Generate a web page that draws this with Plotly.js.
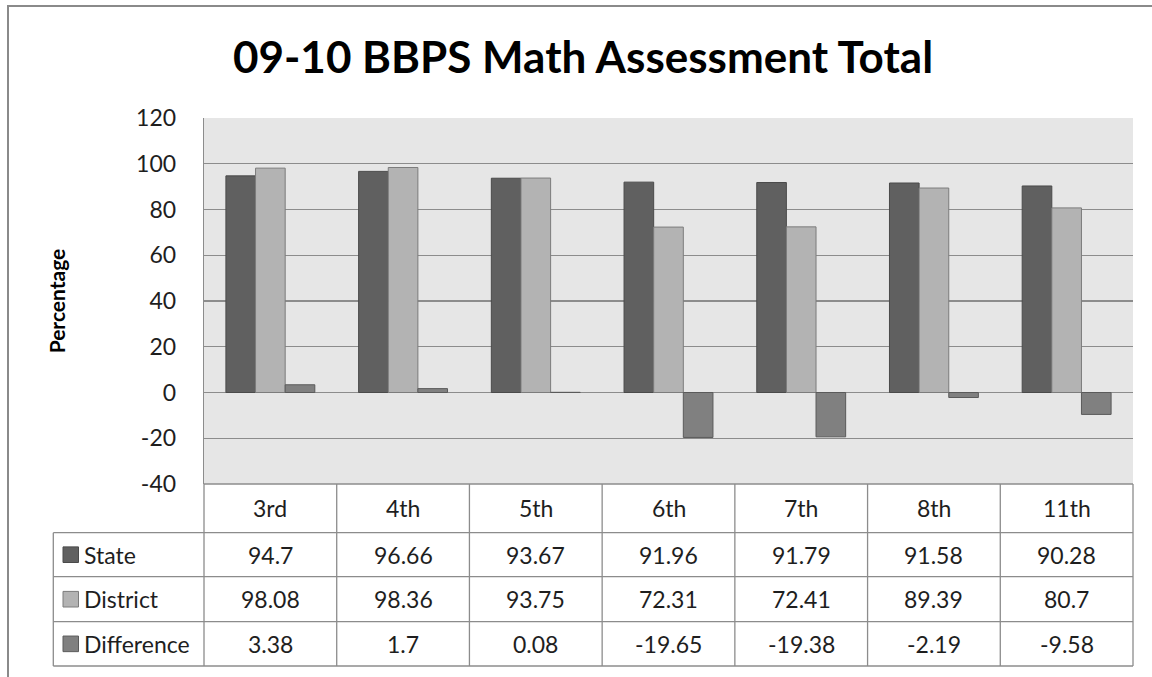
<!DOCTYPE html>
<html>
<head>
<meta charset="utf-8">
<script src="https://cdn.plot.ly/plotly-3.0.1.min.js"></script>
<style>
  html, body { margin: 0; padding: 0; background: #fff; }
  #chart { width: 1152px; height: 677px; }
</style>
</head>
<body>
<div id="chart"></div>
<script>
// grades on the x axis
var grades = ["3rd", "4th", "5th", "6th", "7th", "8th", "11th"];

// percentages
var stateScores = [94.7, 96.66, 93.67, 91.96, 91.79, 91.58, 90.28];
var districtScores = [98.08, 98.36, 93.75, 72.31, 72.41, 89.39, 80.7];
var differenceScores = [3.38, 1.7, 0.08, -19.65, -19.38, -2.19, -9.58];

var seriesNames = ["State", "District", "Difference"];
var seriesValues = [stateScores, districtScores, differenceScores];
var seriesColors = ["#606060", "#b3b3b3", "#808080"];
var seriesEdges = ["#4a4a4a", "#7c7c7c", "#5a5a5a"];

var yTicks = [-40, -20, 0, 20, 40, 60, 80, 100, 120];

var font = "Lato, 'Open Sans', sans-serif";
var lineGray = "#8c8c8c";
var textColor = "#1e1e1e";

//one bar trace per series
var data = seriesNames.map((name, i) => ({
  x: grades,
  y: seriesValues[i],
  name: name,
  type: "bar",
  marker: { color: seriesColors[i], line: { color: seriesEdges[i], width: 1 } },
  hoverinfo: "x+y+name"
}));

// pixel layout of the data table under the plot (plot area is 118..484 tall)
var plotTop = 118, plotBottom = 484, plotLeft = 204, plotWidth = 929;
var toY = py => (plotBottom - py) / (plotBottom - plotTop);
var toX = px => (px - plotLeft) / plotWidth;
var rowLines = [484, 532.7, 576.7, 621.7, 666];
var headerMid = (rowLines[0] + rowLines[1]) / 2;

var shapes = [];
var annotations = [];

// outer chart frame, cut off at right and bottom like the screenshot
shapes.push({
  type: "rect", xref: "paper", yref: "paper",
  x0: toX(8), x1: 1.2, y0: -0.8, y1: toY(6),
  line: { color: "#8a8a8a", width: 2 }, layer: "below"
});

// horizontal table lines
rowLines.forEach((py, r) => {
  shapes.push({
    type: "line", xref: "paper", yref: "paper",
    x0: r == 0 ? 0 : toX(53.3), x1: 1, y0: toY(py), y1: toY(py),
    line: { color: lineGray, width: 1.3 }
  });
});

// vertical table lines, one per category boundary
for (var c = 0; c <= grades.length; c++) {
  shapes.push({
    type: "line", xref: "paper", yref: "paper",
    x0: c / grades.length, x1: c / grades.length, y0: toY(rowLines[4]), y1: toY(rowLines[0]),
    line: { color: lineGray, width: 1.3 }
  });
}
// left edge of the legend column
shapes.push({
  type: "line", xref: "paper", yref: "paper",
  x0: toX(53.3), x1: toX(53.3), y0: toY(rowLines[4]), y1: toY(rowLines[1]),
  line: { color: lineGray, width: 1.3 }
});

// header row with grade names
grades.forEach(g => {
  annotations.push({
    x: g, xref: "x", y: toY(headerMid), yref: "paper",
    text: g, showarrow: false, xanchor: "center", yanchor: "middle",
    font: { family: font, size: 23, color: textColor }
  });
});

// one row per series: legend key, name and values
seriesNames.forEach((name, i) => {
  var mid = (rowLines[i + 1] + rowLines[i + 2]) / 2;
  shapes.push({
    type: "rect", xref: "paper", yref: "paper",
    x0: toX(63), x1: toX(78.5), y0: toY(mid + 7.8), y1: toY(mid - 7.8),
    fillcolor: seriesColors[i], line: { color: seriesEdges[i], width: 1 }
  });
  annotations.push({
    x: toX(82), xref: "paper", y: toY(mid), yref: "paper",
    text: name, showarrow: false, xanchor: "left", yanchor: "middle",
    font: { family: font, size: 23, color: textColor }
  });
  seriesValues[i].forEach((v, j) => {
    annotations.push({
      x: grades[j], xref: "x", y: toY(mid), yref: "paper",
      text: String(v), showarrow: false, xanchor: "center", yanchor: "middle",
      font: { family: font, size: 23, color: textColor }
    });
  });
});

var layout = {
  width: 1152,
  height: 677,
  margin: { l: 204, r: 19, t: 118, b: 193 },
  paper_bgcolor: "#ffffff",
  plot_bgcolor: "#e6e6e6",
  font: { family: font, color: textColor },
  title: {
    text: "<b>09-10 BBPS Math Assessment Total</b>",
    x: 583 / 1152, xref: "container", xanchor: "center",
    y: 1 - 58 / 677, yref: "container", yanchor: "middle",
    font: { family: font, size: 44, color: "#000" }
  },
  showlegend: false,
  barmode: "group",
  bargap: 0.33,
  bargroupgap: 0,
  xaxis: {
    showticklabels: false,
    ticks: "",
    showgrid: false,
    zeroline: false,
    showline: false,
    fixedrange: true
  },
  yaxis: {
    range: [-40, 120],
    tickvals: yTicks,
    ticktext: yTicks.map(t => String(t)),
    ticks: "",
    ticklabelstandoff: 22,
    tickfont: { family: font, size: 23, color: textColor },
    showgrid: true,
    gridcolor: lineGray,
    gridwidth: 1.3,
    zeroline: false,
    showline: true,
    linecolor: lineGray,
    linewidth: 1.3,
    title: { text: "<b>Percentage</b>", standoff: 64, font: { family: font, size: 21, color: "#000" } },
    fixedrange: true
  },
  shapes: shapes,
  annotations: annotations
};

Plotly.newPlot("chart", data, layout, { displayModeBar: false, staticPlot: true });
</script>
</body>
</html>
